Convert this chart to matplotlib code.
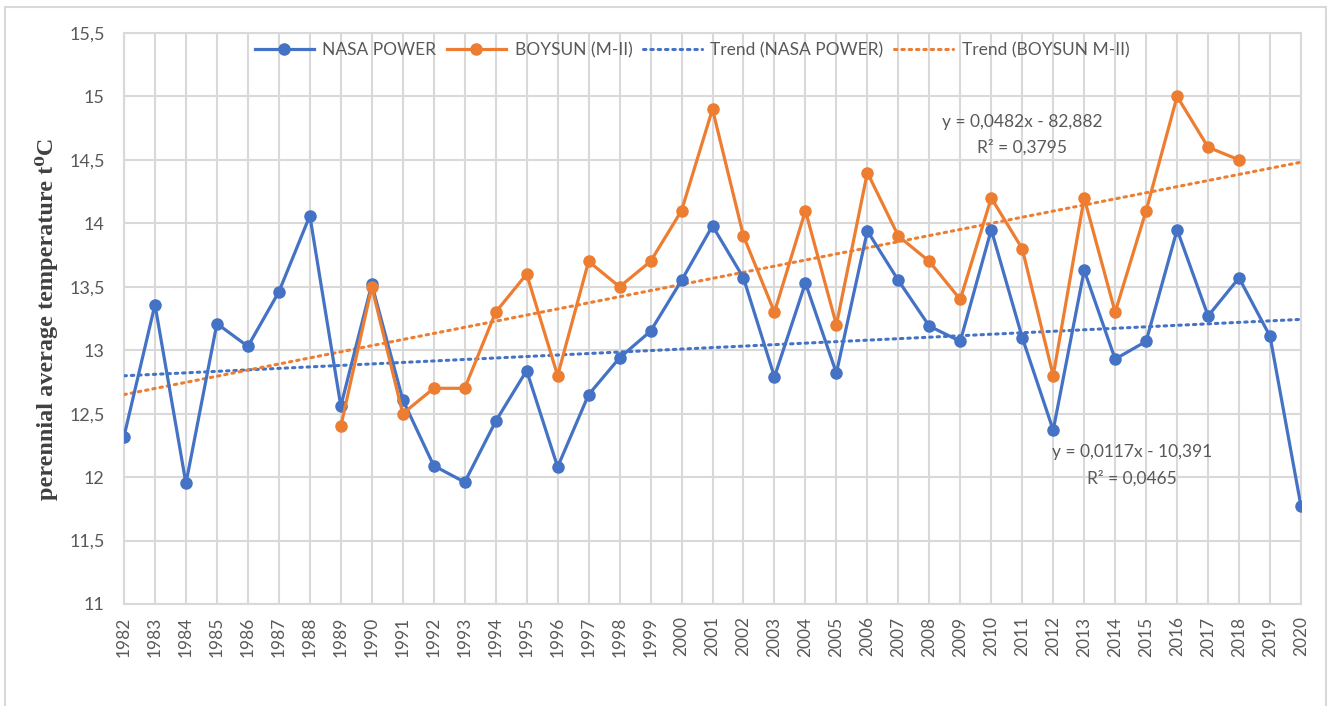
import matplotlib
matplotlib.use("Agg")
import matplotlib.pyplot as plt
import numpy as np
from matplotlib.patches import Rectangle

years = list(range(1982, 2021))
nasa = [12.32, 13.36, 11.95, 13.21, 13.03, 13.46, 14.06, 12.56, 13.52, 12.61,
        12.09, 11.96, 12.44, 12.84, 12.08, 12.65, 12.94, 13.15, 13.55, 13.98,
        13.57, 12.79, 13.53, 12.82, 13.94, 13.55, 13.19, 13.07, 13.95, 13.10,
        12.37, 13.63, 12.93, 13.07, 13.95, 13.27, 13.57, 13.11, 11.77]
boysun_years = list(range(1989, 2019))
boysun = [12.4, 13.5, 12.5, 12.7, 12.7, 13.3, 13.6, 12.8, 13.7, 13.5,
          13.7, 14.1, 14.9, 13.9, 13.3, 14.1, 13.2, 14.4, 13.9, 13.7,
          13.4, 14.2, 13.8, 12.8, 14.2, 13.3, 14.1, 15.0, 14.6, 14.5]
nasa_trend = (0.0117, -10.391)
boysun_trend = (0.0482, -82.882)
yticks = [11, 11.5, 12, 12.5, 13, 13.5, 14, 14.5, 15, 15.5]
ytick_labels = ["11", "11,5", "12", "12,5", "13", "13,5", "14", "14,5", "15", "15,5"]

BLUE = "#4472C4"
ORANGE = "#ED7D31"
GRAY = "#595959"
GRID = "#D9D9D9"

plt.rcParams['font.family'] = ['Lato', 'DejaVu Sans']

fig = plt.figure(figsize=(13.3, 7.06), dpi=100)
ax = fig.add_axes([124/1330, 1-604/706, (1301-124)/1330, (604-33)/706])

yr = np.array(years, dtype=float)
ax.plot(years, nasa, color=BLUE, lw=2.3, marker='o', ms=8, label="NASA POWER", zorder=4)
ax.plot(boysun_years, boysun, color=ORANGE, lw=2.3, marker='o', ms=8, label="BOYSUN (M-II)", zorder=5)
ax.plot(yr, nasa_trend[0]*yr + nasa_trend[1], color=BLUE, lw=2.2, ls=(0, (0.8, 1.6)),
        dash_capstyle='round', label="Trend (NASA POWER)", zorder=3)
ax.plot(yr, boysun_trend[0]*yr + boysun_trend[1], color=ORANGE, lw=2.2, ls=(0, (0.8, 1.6)),
        dash_capstyle='round', label="Trend (BOYSUN M-II)", zorder=3)

ax.set_xlim(1982, 2020)
ax.set_ylim(11, 15.5)
ax.set_xticks(years)
ax.set_xticklabels([str(y) for y in years], rotation=90, fontsize=12.5, color=GRAY)
ax.set_yticks(yticks)
ax.set_yticklabels(ytick_labels, fontsize=13, color=GRAY)
ax.tick_params(axis='both', length=0)
ax.tick_params(axis='y', pad=14)
ax.tick_params(axis='x', pad=9)
ax.grid(True, color=GRID, lw=1.5, zorder=0)
ax.set_axisbelow(True)
for s in ax.spines.values():
    s.set_color(GRID)
    s.set_linewidth(1.5)

ax.set_ylabel("perennial average temperature t\u2070C", family=['Liberation Serif', 'DejaVu Serif'],
              fontweight='bold', fontsize=17.5, color="#404040", labelpad=8)

ax.text(2011.0, 14.80, "y = 0,0482x - 82,882", fontsize=12.5, color=GRAY, ha='center', va='center')
ax.text(2011.0, 14.60, "R\u00b2 = 0,3795", fontsize=12.5, color=GRAY, ha='center', va='center')
ax.text(2014.55, 12.20, "y = 0,0117x - 10,391", fontsize=12.5, color=GRAY, ha='center', va='center')
ax.text(2014.55, 11.99, "R\u00b2 = 0,0465", fontsize=12.5, color=GRAY, ha='center', va='center')

leg = fig.legend(loc='center', bbox_to_anchor=(692/1330, 1-50/706), ncol=4, frameon=False,
                 fontsize=12.5, handlelength=3.4, handletextpad=0.5, columnspacing=0.6,
                 labelcolor=GRAY)

fig.patches.append(Rectangle((5/1330, -0.1), (1326-5)/1330, 1.1-7/706, transform=fig.transFigure,
                             fill=False, edgecolor="#D9D9D9", lw=1.5))

fig.savefig("out.png", dpi=100)
